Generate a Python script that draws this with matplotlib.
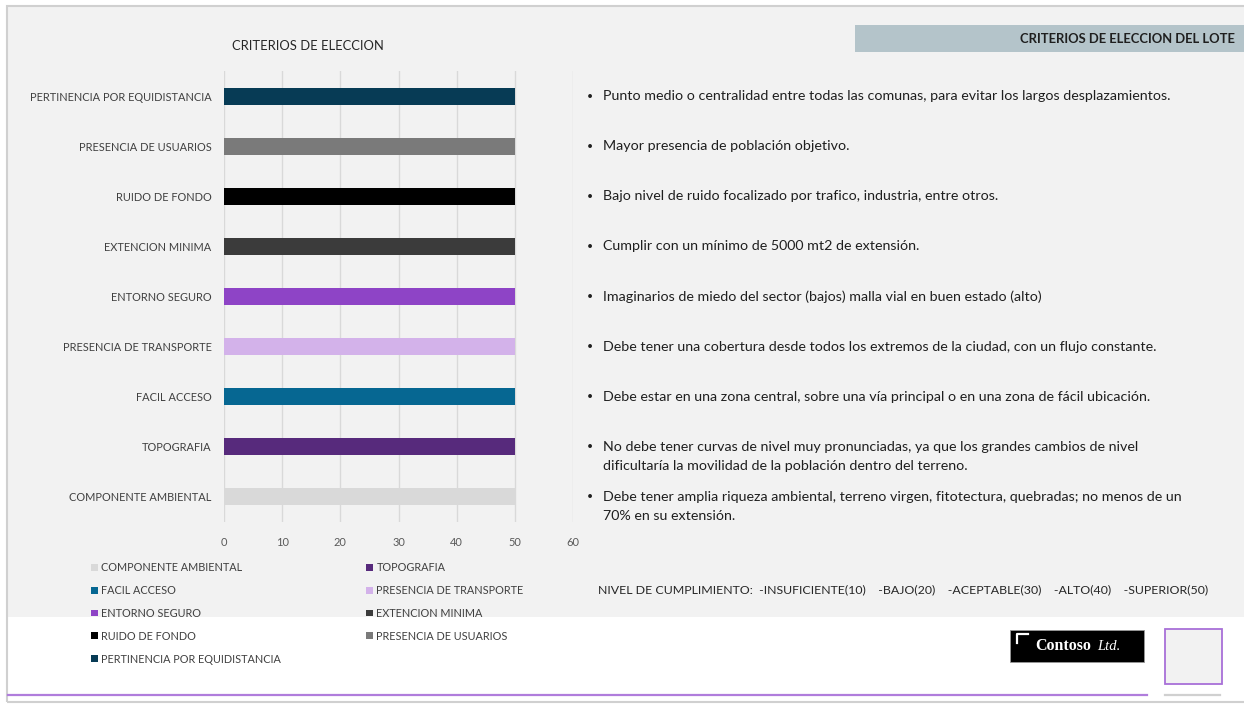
import numpy as np
import matplotlib.pyplot as plt
import matplotlib.transforms as mtransforms
from matplotlib.patches import Rectangle
from matplotlib.lines import Line2D

plt.rcParams['font.family'] = ['Lato', 'DejaVu Sans']

W, H = 1244, 704

criterios = ["COMPONENTE AMBIENTAL", "TOPOGRAFIA", "FACIL ACCESO",
             "PRESENCIA DE TRANSPORTE", "ENTORNO SEGURO", "EXTENCION MINIMA",
             "RUIDO DE FONDO", "PRESENCIA DE USUARIOS",
             "PERTINENCIA POR EQUIDISTANCIA"]
puntaje = [50, 50, 50, 50, 50, 50, 50, 50, 50]
colores = ["#d9d9d9", "#572a7c", "#066792", "#d3b2ea", "#8e44c6",
           "#3b3b3b", "#000000", "#7a7a7a", "#073b55"]

descripciones = [
    ["Debe tener amplia riqueza ambiental, terreno virgen, fitotectura, quebradas; no menos de un",
     "70% en su extensión."],
    ["No debe tener curvas de nivel muy pronunciadas, ya que los grandes cambios de nivel",
     "dificultaría la movilidad de la población dentro del terreno."],
    ["Debe estar en una zona central, sobre una vía principal o en una zona de fácil ubicación."],
    ["Debe tener una cobertura desde todos los extremos de la ciudad, con un flujo constante."],
    ["Imaginarios de miedo del sector (bajos) malla vial en buen estado (alto)"],
    ["Cumplir con un mínimo de 5000 mt2 de extensión."],
    ["Bajo nivel de ruido focalizado por trafico, industria, entre otros."],
    ["Mayor presencia de población objetivo."],
    ["Punto medio o centralidad entre todas las comunas, para evitar los largos desplazamientos."],
]

niveles = ["INSUFICIENTE", "BAJO", "ACEPTABLE", "ALTO", "SUPERIOR"]
valores_nivel = [10, 20, 30, 40, 50]


def fx(x):
    return x / W


def fy(y):
    return 1 - y / H


fig = plt.figure(figsize=(W / 100, H / 100), dpi=100, facecolor="white")

# fondo de la diapositiva
fig.patches.append(Rectangle((fx(8), fy(617)), 1, fy(6) - fy(617),
                             transform=fig.transFigure, facecolor="#f2f2f2",
                             edgecolor="none", zorder=-10))
fig.patches.append(Rectangle((fx(7.5), fy(702)), 1.1, fy(5.5) - fy(702),
                             transform=fig.transFigure, facecolor="none",
                             edgecolor="#d0d0d0", lw=1.5, zorder=-5))

# grafico de barras
ax = fig.add_axes([fx(224), fy(522), fx(573) - fx(224), fy(71) - fy(522)])
ax.set_facecolor("none")
y = np.arange(len(criterios))
barras = []
for i, (c, v, col) in enumerate(zip(criterios, puntaje, colores)):
    b = ax.barh(y[i], v, height=0.34, color=col, label=c, zorder=3)
    barras.append(b)
ax.set_xlim(0, 60)
ax.set_ylim(-0.5, len(criterios) - 0.5)
ax.set_xticks(np.arange(0, 61, 10))
ax.set_yticks(y)
ax.set_yticklabels(criterios)
ax.grid(axis="x", color="#d9d9d9", lw=1, zorder=0)
ax.tick_params(axis="both", length=0, labelsize=7.9, colors="#404040")
ax.tick_params(axis="x", pad=11, colors="#595959")
ax.tick_params(axis="y", pad=9)
for s in ax.spines.values():
    s.set_visible(False)

fig.text(fx(308), fy(46), "CRITERIOS DE ELECCION", ha="center", va="center",
         fontsize=9.4, color="#262626")

# leyenda en dos columnas (orden por filas)
orden = [0, 2, 4, 6, 8, 1, 3, 5, 7]
fig.legend([barras[i] for i in orden], [criterios[i] for i in orden],
           loc="upper left", bbox_to_anchor=(fx(91), fy(562)), ncol=2,
           frameon=False, fontsize=7.8, handlelength=0.6, handleheight=0.6,
           handletextpad=0.35, labelspacing=1.1, columnspacing=7.85,
           borderaxespad=0, borderpad=0, labelcolor="#404040")

# encabezado derecho
fig.patches.append(Rectangle((fx(855), fy(52)), 1, fy(25) - fy(52),
                             transform=fig.transFigure, facecolor="#b4c4ca",
                             edgecolor="none"))
fig.text(fx(1235), fy(39), "CRITERIOS DE ELECCION DEL LOTE", ha="right",
         va="center", fontsize=9.35, fontweight="bold", color="#1f1f1f")

# descripciones alineadas con cada barra
trans = mtransforms.blended_transform_factory(fig.transFigure, ax.transData)
for i, lineas in enumerate(descripciones):
    ax.text(fx(590), y[i], "•", transform=trans, ha="center", va="center",
            fontsize=7.5, color="#1f1f1f")
    for k, linea in enumerate(lineas):
        t = mtransforms.offset_copy(trans, fig=fig, y=-19 * k, units="dots")
        ax.text(fx(603), y[i], linea, transform=t, ha="left", va="center",
                fontsize=10.3, color="#1f1f1f")

nivel_txt = "NIVEL DE CUMPLIMIENTO:  " + "    ".join(
    f"-{n}({v})" for n, v in zip(niveles, valores_nivel))
fig.text(fx(598), fy(590), nivel_txt, ha="left", va="center", fontsize=8.9,
         color="#262626")

# pie: logo y marco
fig.patches.append(Rectangle((fx(1010), fy(662)), fx(1144) - fx(1010),
                             fy(630) - fy(662), transform=fig.transFigure,
                             facecolor="black", edgecolor="#999999", lw=0.6))
fig.lines.append(Line2D([fx(1017), fx(1017), fx(1028)],
                        [fy(643), fy(634), fy(634)], transform=fig.transFigure,
                        color="white", lw=1.6))
fig.text(fx(1035), fy(646), "Contoso", ha="left", va="center",
         fontsize=11.5, fontweight="bold", family="Liberation Serif",
         color="white")
fig.text(fx(1097), fy(646), "Ltd.", ha="left", va="center",
         fontsize=10.5, style="italic", family="Liberation Serif", color="white")
fig.patches.append(Rectangle((fx(1165), fy(684)), fx(1222) - fx(1165),
                             fy(629) - fy(684), transform=fig.transFigure,
                             facecolor="#f2f2f2", edgecolor="#a870d8", lw=1.3))
fig.lines.append(Line2D([fx(8), fx(1147)], [fy(695), fy(695)],
                        transform=fig.transFigure, color="#b07ddc", lw=1.6))
fig.lines.append(Line2D([fx(1165), fx(1220)], [fy(695), fy(695)],
                        transform=fig.transFigure, color="#d0d0d0", lw=1.6))

fig.savefig("out.png", dpi=100, facecolor=fig.get_facecolor())
